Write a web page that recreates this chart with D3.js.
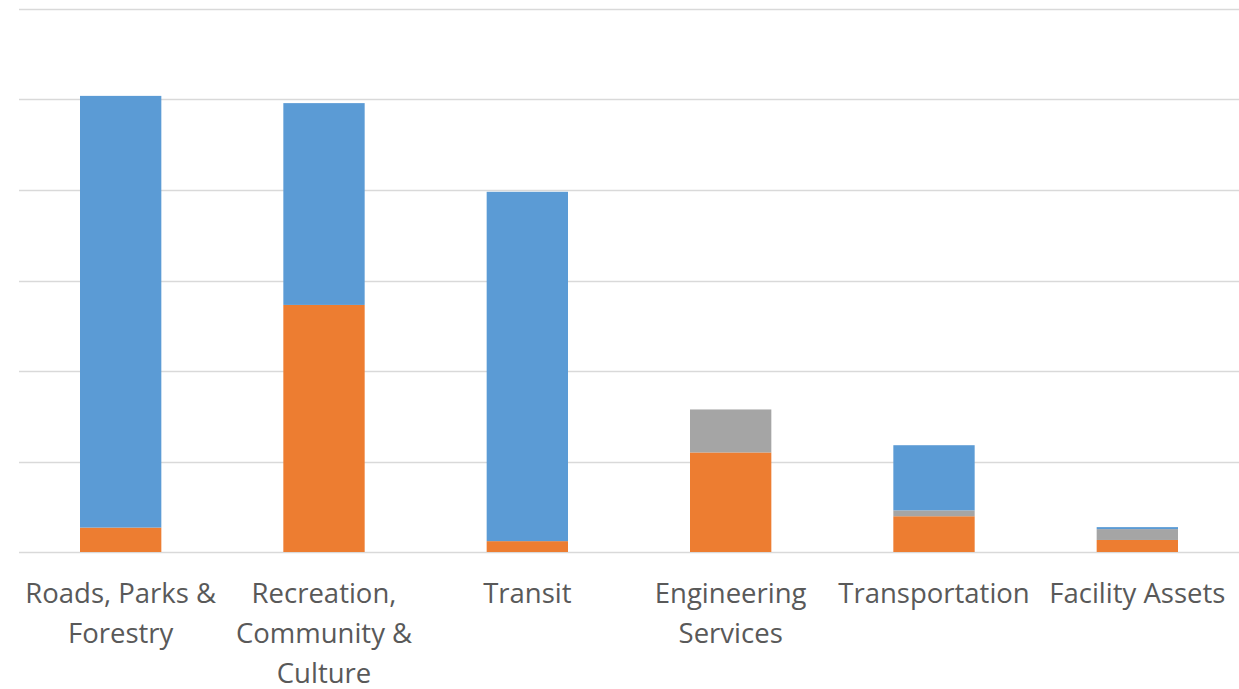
<!DOCTYPE html>
<html>
<head>
<meta charset="utf-8">
<script src="https://cdn.jsdelivr.net/npm/d3@7"></script>
<style>
  html, body { margin: 0; padding: 0; background: #fff; }
  svg { display: block; }
</style>
</head>
<body>
<svg id="chart" width="1239" height="689"></svg>
<script>
const categories = ["Roads, Parks & Forestry", "Recreation, Community & Culture", "Transit", "Engineering Services", "Transportation", "Facility Assets"];
const tickLabels = [["Roads, Parks &", "Forestry"], ["Recreation,", "Community &", "Culture"], ["Transit"], ["Engineering", "Services"], ["Transportation"], ["Facility Assets"]];
const seriesNames = ["Orange", "Gray", "Blue"];
const orangeValues = [0.27, 2.73, 0.12, 1.10, 0.395, 0.133];
const grayValues   = [0, 0, 0, 0.475, 0.065, 0.12];
const blueValues   = [4.77, 2.23, 3.86, 0, 0.72, 0.022];
const seriesColors = ["#ED7D31", "#A5A5A5", "#5B9BD5"];
const yTicks = [0, 1, 2, 3, 4, 5, 6];

const svg = d3.select("#chart");
const margin = {left: 19, right: 0, top: 9, bottom: 137};
const W = 1239, H = 689;
const x = d3.scaleBand().domain(categories).range([margin.left, W - margin.right]).paddingInner(0.6).paddingOuter(0.3);
const y = d3.scaleLinear().domain([0, 6]).range([H - margin.bottom, margin.top]);

const table = categories.map((c, i) => ({cat: c, Orange: orangeValues[i], Gray: grayValues[i], Blue: blueValues[i]}));
const stacked = d3.stack().keys(seriesNames)(table);

// gridlines
svg.append("g").selectAll("line").data(yTicks).join("line")
  .attr("x1", margin.left).attr("x2", W)
  .attr("y1", d => Math.round(y(d)) + 0.5).attr("y2", d => Math.round(y(d)) + 0.5)
  .attr("stroke", "#D9D9D9").attr("stroke-width", 1.5);

svg.append("g").selectAll("g").data(stacked).join("g")
  .attr("fill", (d, i) => seriesColors[i])
  .selectAll("rect").data(d => d).join("rect")
  .attr("x", d => x(d.data.cat))
  .attr("width", x.bandwidth())
  .attr("y", d => y(d[1]))
  .attr("height", d => Math.max(0, y(d[0]) - y(d[1])));

// axis labels
const lab = svg.append("g");
categories.forEach((c, i) => {
  const t = lab.append("text")
    .attr("x", x(c) + x.bandwidth() / 2)
    .attr("y", 603)
    .attr("text-anchor", "middle")
    .attr("font-family", "'Open Sans', sans-serif")
    .attr("font-size", 27.5)
    .attr("fill", "#595959");
  tickLabels[i].forEach((line, j) => {
    t.append("tspan").attr("x", x(c) + x.bandwidth() / 2).attr("y", 603 + j * 40).text(line);
  });
});
</script>
</body>
</html>
